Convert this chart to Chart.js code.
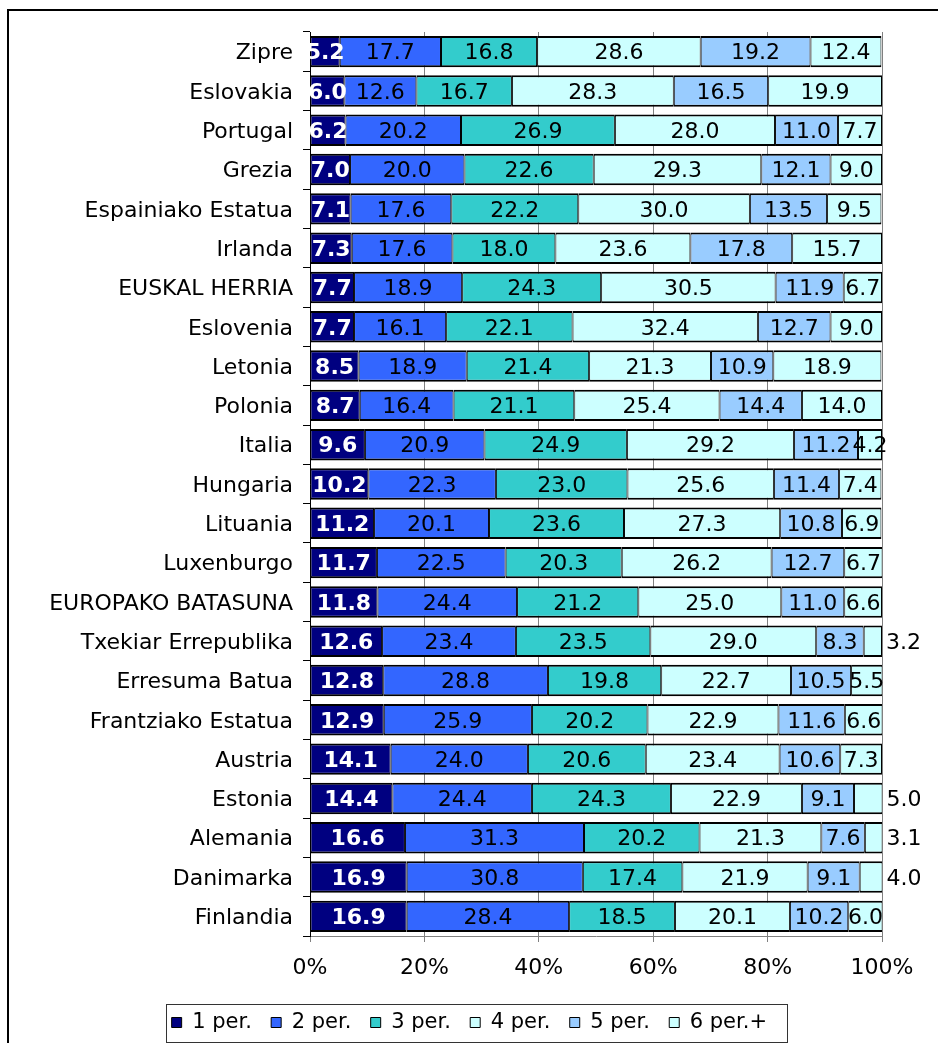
<!DOCTYPE html>
<html lang="eu">
<head>
    <meta charset="UTF-8">
    <title>Etxekoen kopurua</title>
    <style>
        body {
    margin: 0;
    padding: 0;
    background-color: #fff;
}

.frame {
    position: absolute;
    left: 7px;
    top: 9px;
    width: 960px;
    height: 1060px;
    border: 2px solid #000;
}

#householdChart {
    position: absolute;
    left: 0;
    top: 0;
}
    </style>
</head>
<body>
    <div class="frame"></div>
    <canvas id="householdChart" width="938" height="1043"></canvas>
    <script src="https://cdn.jsdelivr.net/npm/chart.js"></script>
    <script>
// Categories (top to bottom)
const countries = ['Zipre', 'Eslovakia', 'Portugal', 'Grezia', 'Espainiako Estatua', 'Irlanda',
    'EUSKAL HERRIA', 'Eslovenia', 'Letonia', 'Polonia', 'Italia', 'Hungaria', 'Lituania',
    'Luxenburgo', 'EUROPAKO BATASUNA', 'Txekiar Errepublika', 'Erresuma Batua',
    'Frantziako Estatua', 'Austria', 'Estonia', 'Alemania', 'Danimarka', 'Finlandia'];

const seriesNames = ['1 per.', '2 per.', '3 per.', '4 per.', '5 per.', '6 per.+'];

// Share of households (%) by size
const per1 = [5.2, 6.0, 6.2, 7.0, 7.1, 7.3, 7.7, 7.7, 8.5, 8.7, 9.6, 10.2, 11.2, 11.7, 11.8, 12.6, 12.8, 12.9, 14.1, 14.4, 16.6, 16.9, 16.9];
const per2 = [17.7, 12.6, 20.2, 20.0, 17.6, 17.6, 18.9, 16.1, 18.9, 16.4, 20.9, 22.3, 20.1, 22.5, 24.4, 23.4, 28.8, 25.9, 24.0, 24.4, 31.3, 30.8, 28.4];
const per3 = [16.8, 16.7, 26.9, 22.6, 22.2, 18.0, 24.3, 22.1, 21.4, 21.1, 24.9, 23.0, 23.6, 20.3, 21.2, 23.5, 19.8, 20.2, 20.6, 24.3, 20.2, 17.4, 18.5];
const per4 = [28.6, 28.3, 28.0, 29.3, 30.0, 23.6, 30.5, 32.4, 21.3, 25.4, 29.2, 25.6, 27.3, 26.2, 25.0, 29.0, 22.7, 22.9, 23.4, 22.9, 21.3, 21.9, 20.1];
const per5 = [19.2, 16.5, 11.0, 12.1, 13.5, 17.8, 11.9, 12.7, 10.9, 14.4, 11.2, 11.4, 10.8, 12.7, 11.0, 8.3, 10.5, 11.6, 10.6, 9.1, 7.6, 9.1, 10.2];
const per6 = [12.4, 19.9, 7.7, 9.0, 9.5, 15.7, 6.7, 9.0, 18.9, 14.0, 4.2, 7.4, 6.9, 6.7, 6.6, 3.2, 5.5, 6.6, 7.3, 5.0, 3.1, 4.0, 6.0];

// rows where the last label sits to the right of the bar
const outsideLast = ['Txekiar Errepublika', 'Estonia', 'Alemania', 'Danimarka'];

const colors = ['#000080', '#3366FF', '#33CCCC', '#CCFFFF', '#99CCFF', '#CCFFFF'];
const FONT = "'DejaVu Sans', Verdana, sans-serif";

Chart.defaults.font.family = FONT;
Chart.defaults.font.size = 22;
Chart.defaults.color = '#000';

const allSeries = [per1, per2, per3, per4, per5, per6];

const valueLabels = {
    id: 'valueLabels',
    afterDatasetsDraw(chart) {
        const ctx = chart.ctx;
        ctx.save();
        ctx.textBaseline = 'middle';
        chart.data.datasets.forEach((ds, i) => {
            const meta = chart.getDatasetMeta(i);
            ctx.font = (i === 0 ? 'bold ' : '') + '22px ' + FONT;
            ctx.fillStyle = i === 0 ? '#fff' : '#000';
            meta.data.forEach((el, j) => {
                const text = ds.data[j].toFixed(1);
                if (i === 5 && outsideLast.includes(countries[j])) {
                    ctx.textAlign = 'left';
                    ctx.fillText(text, el.x + 4, el.y + 2);
                } else {
                    ctx.textAlign = 'center';
                    ctx.fillText(text, (el.x + el.base) / 2, el.y + 2);
                }
            });
        });
        ctx.restore();
    }
};

// nudge the legend to the right and frame it
const legendBox = {
    id: 'legendBox',
    afterUpdate(chart) {
        const lg = chart.legend;
        const dx = 28;
        lg.left += dx;
        lg.right += dx;
        (lg.legendHitBoxes || []).forEach(h => { h.left += dx; });
    },
    afterDraw(chart) {
        const hb = chart.legend.legendHitBoxes;
        if (!hb || !hb.length) return;
        const left = Math.min(...hb.map(h => h.left)) - 6;
        const right = Math.max(...hb.map(h => h.left + h.width)) + 6;
        const top = hb[0].top - 8;
        const bottom = hb[0].top + hb[0].height + 9;
        const ctx = chart.ctx;
        ctx.save();
        ctx.strokeStyle = '#333';
        ctx.lineWidth = 1;
        ctx.strokeRect(Math.round(left) + 0.5, Math.round(top) + 0.5, Math.round(right - left), Math.round(bottom - top));
        ctx.restore();
    }
};

const chart = new Chart(document.getElementById('householdChart'), {
    type: 'bar',
    data: {
        labels: countries,
        datasets: allSeries.map((values, i) => ({
            label: seriesNames[i],
            data: values,
            backgroundColor: colors[i],
            borderColor: '#000',
            borderWidth: {top: 2, bottom: 2, left: 1, right: 1},
            borderSkipped: false,
            barPercentage: 0.8,
            categoryPercentage: 1.0
        }))
    },
    options: {
        indexAxis: 'y',
        responsive: false,
        animation: false,
        layout: {
            padding: {left: 14, right: 56, top: 32, bottom: 0}
        },
        scales: {
            x: {
                stacked: true,
                min: 0,
                max: 100,
                ticks: {
                    stepSize: 20,
                    padding: 13,
                    callback: v => v + '%'
                },
                grid: {
                    color: '#808080',
                    tickLength: 6
                },
                border: {color: '#808080'},
                afterFit(scale) { scale.height = 70; }
            },
            y: {
                stacked: true,
                ticks: {autoSkip: false, padding: 10, labelOffset: 2},
                grid: {
                    drawOnChartArea: false,
                    tickLength: 7,
                    color: '#000'
                },
                border: {color: '#000'},
                afterFit(scale) { scale.width = 296; }
            }
        },
        plugins: {
            legend: {
                position: 'bottom',
                labels: {
                    boxWidth: 10,
                    boxHeight: 10,
                    padding: 6,
                    font: {size: 21},
                    generateLabels(chart) {
                        const items = Chart.defaults.plugins.legend.labels.generateLabels(chart);
                        items.forEach(it => { it.text = it.text + '\u00a0\u00a0'; it.lineWidth = 1; });
                        return items;
                    }
                }
            },
            tooltip: {enabled: false}
        }
    },
    plugins: [valueLabels, legendBox]
});
    </script>
</body>
</html>
